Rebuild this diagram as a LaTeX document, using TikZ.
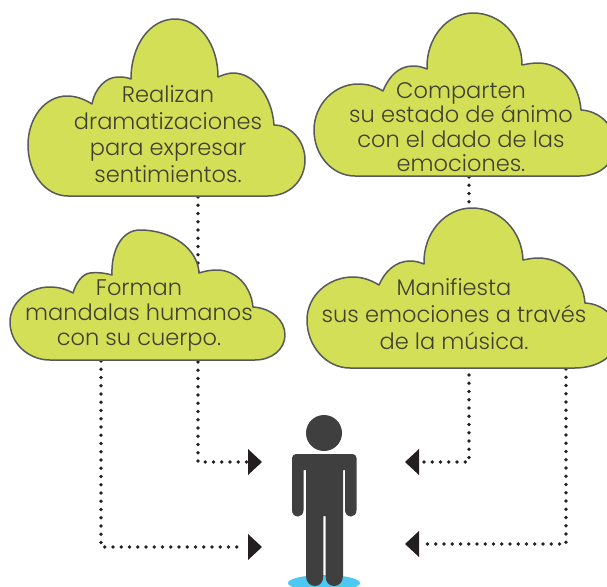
\documentclass[tikz,border=0pt]{standalone}
\usepackage{fontspec}
\setmainfont{Poppins Light}
\definecolor{cloudfill}{HTML}{D3DF56}
\definecolor{cloudline}{HTML}{58595B}
\definecolor{ink}{HTML}{3F4030}
\definecolor{figure}{HTML}{3F3F3F}
\definecolor{tipc}{HTML}{231F20}
\definecolor{floorc}{HTML}{4CC8F2}
\tikzset{
  cloudshape/.style={fill=cloudfill,draw=cloudline,line width=1.5pt,line join=round},
  cloudtext/.style={text=ink,align=center,inner sep=0pt},
  dotline/.style={draw=tipc,line width=3.6pt,line cap=round,dash pattern=on 0pt off 8.25pt},
  tipshape/.style={fill=tipc,draw=none},
  figshape/.style={fill=figure,draw=none}
}
\begin{document}
\begin{tikzpicture}[x=1pt,y=-1pt]
\clip (0,0) rectangle (607,586);
% connector end points
\coordinate (c1out) at (198,197);
\coordinate (c1in) at (247,462);
\coordinate (c2out) at (469,177);
\coordinate (c2in) at (420,462);
\coordinate (c3out) at (101,361);
\coordinate (c3in) at (243,547);
\coordinate (c4out) at (566,369);
\coordinate (c4in) at (425,544);
% connectors
\draw[dotline] (c1out) |- (c1in);
\draw[dotline] (c2out) |- (c2in);
\draw[dotline] (c3out) |- (c3in);
\draw[dotline] (c4out) |- (c4in);
% arrow heads
\fill[tipshape] (248,449) -- (262,462) -- (248,475) -- cycle;
\fill[tipshape] (248,534) -- (262,547) -- (248,560) -- cycle;
\fill[tipshape] (419,449) -- (405,462) -- (419,475) -- cycle;
\fill[tipshape] (419,531) -- (405,544) -- (419,557) -- cycle;
% cloud 1
\draw[cloudshape] (68,196) -- (268,196)
  .. controls (290,196) and (305,180) .. (305,160)
  .. controls (305,141) and (291,125) .. (274,125)
  .. controls (272,96) and (254,73) .. (233,73)
  .. controls (228,73) and (223,75) .. (218,77)
  .. controls (218,45) and (200,19) .. (175,19)
  .. controls (150,19) and (131,45) .. (131,79)
  .. controls (126,77) and (122,77) .. (118,77)
  .. controls (106,77) and (95,88) .. (92,104)
  .. controls (84,99) and (76,96) .. (67,96)
  .. controls (45,96) and (28,118) .. (28,145)
  .. controls (28,173) and (45,196) .. (68,196) -- cycle;
% cloud 3
\draw[cloudshape] (50,360) -- (255,360)
  .. controls (272,360) and (285,349) .. (285,335)
  .. controls (285,320) and (271,308) .. (253,307)
  .. controls (251,286) and (236,270) .. (217,270)
  .. controls (211,270) and (205,271) .. (199,273)
  .. controls (198,249) and (172,230) .. (140,230)
  .. controls (122,230) and (111,250) .. (112,275)
  .. controls (105,273) and (97,272) .. (90,273)
  .. controls (82,274) and (76,283) .. (73,293)
  .. controls (66,289) and (58,287) .. (50,287)
  .. controls (28,287) and (10,303) .. (10,322)
  .. controls (10,343) and (28,360) .. (50,360) -- cycle;
% cloud 2
\draw[cloudshape] (355,176) -- (580,176)
  .. controls (600,176) and (615,163) .. (615,145)
  .. controls (615,126) and (600,111) .. (581,110)
  .. controls (579,83) and (561,63) .. (538,63)
  .. controls (532,63) and (527,64) .. (522,65)
  .. controls (522,35) and (500,13) .. (473,13)
  .. controls (447,13) and (426,38) .. (427,69)
  .. controls (422,67) and (418,66) .. (413,66)
  .. controls (399,66) and (389,76) .. (383,91)
  .. controls (375,86) and (367,84) .. (358,84)
  .. controls (334,84) and (314,105) .. (314,130)
  .. controls (314,155) and (332,176) .. (355,176) -- cycle;
% cloud 4
\draw[cloudshape] (350,368) -- (575,368)
  .. controls (600,368) and (618,354) .. (618,336)
  .. controls (618,318) and (604,304) .. (585,303)
  .. controls (583,277) and (563,258) .. (538,258)
  .. controls (533,258) and (528,259) .. (523,260)
  .. controls (522,231) and (500,208) .. (472,208)
  .. controls (445,208) and (423,233) .. (424,264)
  .. controls (419,262) and (415,261) .. (410,261)
  .. controls (396,261) and (385,271) .. (379,285)
  .. controls (371,280) and (362,277) .. (353,277)
  .. controls (328,277) and (307,296) .. (307,320)
  .. controls (307,346) and (326,368) .. (350,368) -- cycle;
% texts
\node[cloudtext,font=\fontsize{22.5}{26.6}\selectfont] (t1) at (168,134) {Realizan\\dramatizaciones\\para expresar\\sentimientos.};
\node[cloudtext,font=\fontsize{22.5}{24.5}\selectfont] (t2) at (461,127) {Comparten\\su estado de ánimo\\con el dado de las\\emociones.};
\node[cloudtext,font=\fontsize{22.5}{25}\selectfont] (t3) at (139,316) {Forman\\mandalas humanos\\con su cuerpo.};
\node[cloudtext,font=\fontsize{22.5}{27}\selectfont] (t4) at (454,314) {Manifiesta\\sus emociones a través\\de la música.};
% person
\fill[floorc] (324,583) ellipse [x radius=36,y radius=8];
\fill[figshape] (324,433) circle [radius=18];
\fill[figshape] (296,454) -- (352.5,454)
  .. controls (355,454) and (356.5,456) .. (356.5,458)
  -- (356.5,510) .. controls (356.5,514) and (354,516.5) .. (351,516.5)
  .. controls (348,516.5) and (345,514) .. (345,510)
  -- (345,470) -- (343,470) -- (343,576)
  .. controls (343,582) and (339,586) .. (334,586)
  .. controls (329,586) and (325.5,582) .. (325.5,576)
  -- (325.5,516) -- (323.3,516) -- (323.3,576)
  .. controls (323.3,582) and (320,586) .. (315,586)
  .. controls (310,586) and (306,582) .. (306,576)
  -- (306,470) -- (303.5,470) -- (303.5,510)
  .. controls (303.5,514) and (301,516.5) .. (298,516.5)
  .. controls (294.5,516.5) and (292,514) .. (292,510)
  -- (292,458) .. controls (292,456) and (294,454) .. (296,454) -- cycle;
\end{tikzpicture}
\end{document}
